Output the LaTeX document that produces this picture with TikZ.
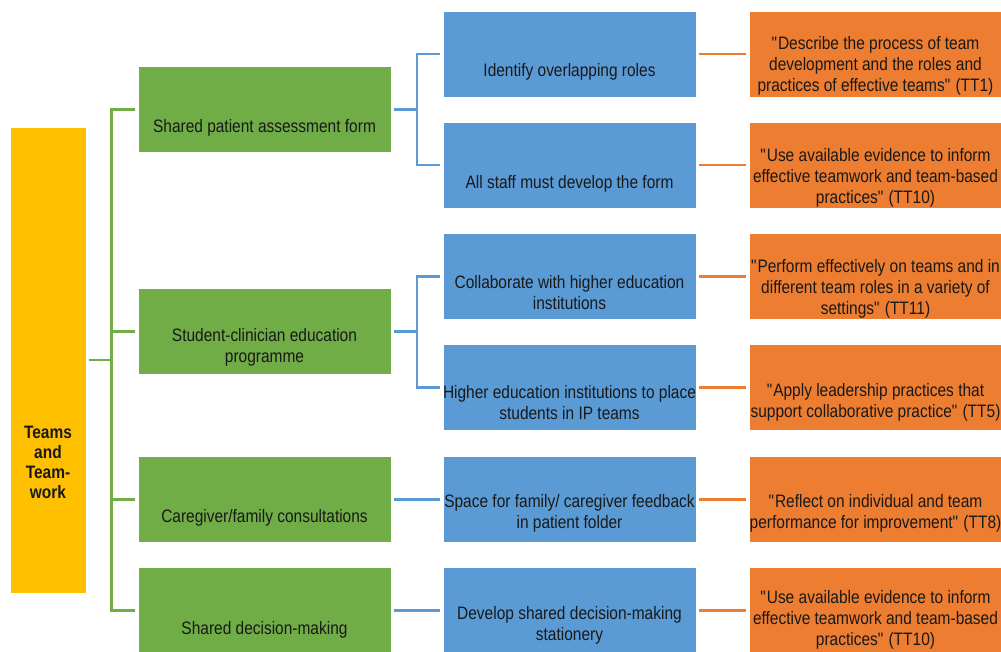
\documentclass[tikz,border=0pt]{standalone}
\usepackage{fontspec}
\setmainfont{Liberation Sans}[FakeStretch=0.86]
\definecolor{cgreen}{HTML}{70AD47}
\definecolor{cblue}{HTML}{5B9BD5}
\definecolor{corange}{HTML}{ED7D31}
\definecolor{cyellow}{HTML}{FFC000}
% straight double quote
\newcommand{\dq}{\textquotedbl}
\begin{document}
\begin{tikzpicture}[x=1pt,y=-1pt,
  box/.style={rectangle, draw=white, line width=0.8pt, minimum width=253pt, minimum height=86pt, inner sep=0pt},
  gbox/.style={box, fill=cgreen},
  bbox/.style={box, fill=cblue},
  obox/.style={box, fill=corange},
  ybox/.style={box, fill=cyellow, minimum width=76pt, minimum height=466pt},
  txt/.style={align=center, font=\fontsize{18}{21}\selectfont, text=black!90, inner sep=0pt},
  link/.style={line width=2.8pt, shorten <=2.5pt, shorten >=2.5pt},
  gline/.style={link, draw=cgreen},
  bline/.style={link, draw=cblue},
  oline/.style={link, draw=corange}]
\useasboundingbox (0,0) rectangle (1001,651);
\clip (0,0) rectangle (1001,651);

% root
\node[ybox, label={[txt, font=\bfseries\fontsize{18}{20}\selectfont, yshift=-102pt]center:{Teams\\and\\Team-\\work}}] (Y) at (48,360) {};

% strategies
\node[gbox, label={[txt, yshift=-18pt]center:{Shared patient assessment form}}] (g1) at (264.5,109.5) {};
\node[gbox, label={[txt, yshift=-16pt]center:{Student-clinician education\\programme}}] (g2) at (264.5,331.5) {};
\node[gbox, label={[txt, yshift=-18pt]center:{Caregiver/family consultations}}] (g3) at (264.5,499.5) {};
\node[gbox, label={[txt, yshift=-19pt]center:{Shared decision-making}}] (g4) at (264.5,610.5) {};

% actions
\node[bbox, label={[txt, yshift=-18pt]center:{Identify overlapping roles}}] (b1) at (569.5,54) {};
\node[bbox, label={[txt, yshift=-19pt]center:{All staff must develop the form}}] (b2) at (569.5,165) {};
\node[bbox, label={[txt, yshift=-16pt]center:{Collaborate with higher education\\institutions}}] (b3) at (569.5,276.5) {};
\node[bbox, label={[txt, yshift=-15pt]center:{Higher education institutions to place\\students in IP teams}}] (b4) at (569.5,387.5) {};
\node[bbox, label={[txt, yshift=-14pt]center:{Space for family/ caregiver feedback\\in patient folder}}] (b5) at (569.5,499.5) {};
\node[bbox, label={[txt, yshift=-15pt]center:{Develop shared decision-making\\stationery}}] (b6) at (569.5,610.5) {};

% competencies
\node[obox, label={[txt, yshift=-12pt]center:{\dq Describe the process of team\\development and the roles and\\practices of effective teams\dq\ (TT1)}}] (o1) at (875.5,54) {};
\node[obox, label={[txt, yshift=-13pt]center:{\dq Use available evidence to inform\\effective teamwork and team-based\\practices\dq\ (TT10)}}] (o2) at (875.5,165) {};
\node[obox, label={[txt, yshift=-12.5pt]center:{\dq Perform effectively on teams and in\\different team roles in a variety of\\settings\dq\ (TT11)}}] (o3) at (875.5,276.5) {};
\node[obox, label={[txt, yshift=-15pt]center:{\dq Apply leadership practices that\\support collaborative practice\dq\ (TT5)}}] (o4) at (875.5,387.5) {};
\node[obox, label={[txt, yshift=-14pt]center:{\dq Reflect on individual and team\\performance for improvement\dq\ (TT8)}}] (o5) at (875.5,499.5) {};
\node[obox, label={[txt, yshift=-9.5pt]center:{\dq Use available evidence to inform\\effective teamwork and team-based\\practices\dq\ (TT10)}}] (o6) at (875.5,610.5) {};

% root to strategies
\foreach \g in {g1,g2,g3,g4}
  \draw[gline] (Y.east) -- ++(25,0) |- (\g.west);

% strategies to actions
\draw[bline] (g1.east) -- ++(25.5,0) |- (b1.west);
\draw[bline] (g1.east) -- ++(25.5,0) |- (b2.west);
\draw[bline] (g2.east) -- ++(25.5,0) |- (b3.west);
\draw[bline] (g2.east) -- ++(25.5,0) |- (b4.west);
\draw[bline] (g3.east) -- (b5.west);
\draw[bline] (g4.east) -- (b6.west);

% actions to competencies
\foreach \i in {1,...,6}
  \draw[oline] (b\i.east) -- (o\i.west);
\end{tikzpicture}
\end{document}
